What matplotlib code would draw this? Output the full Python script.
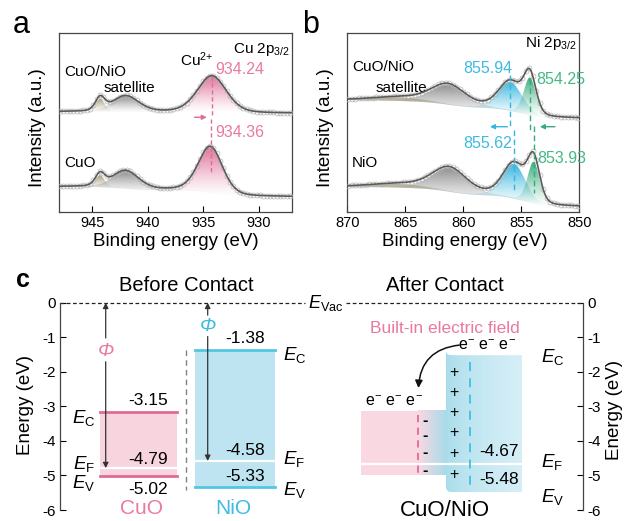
import numpy as np
import matplotlib
matplotlib.use('Agg')
import matplotlib.pyplot as plt
from matplotlib.colors import to_rgb
from matplotlib.path import Path
from matplotlib.patches import FancyArrowPatch

plt.rcParams['font.family'] = ['Liberation Sans', 'DejaVu Sans']
plt.rcParams['mathtext.fontset'] = 'custom'
plt.rcParams['mathtext.rm'] = 'Liberation Sans'
plt.rcParams['mathtext.it'] = 'Liberation Sans:italic'
plt.rcParams['mathtext.bf'] = 'Liberation Sans:bold'
plt.rcParams['axes.unicode_minus'] = False

W, H = 627, 521

# ---------------- data: XPS fitted components (center, height, FWHM) ----------------
# Cu 2p3/2 : [Cu2+, satellite, satellite (small)]
cu_xlim = (948, 927)
cu_ticks = [945, 940, 935, 930]
cuo_nio_cu_center = [934.24, 942.0, 944.3]
cuo_nio_cu_height = [37, 16, 13]
cuo_nio_cu_fwhm = [3.1, 2.8, 1.0]
cuo_nio_cu_bg = [100, 98.4]          # high-BE side, low-BE side
cuo_cu_center = [934.36, 942.0, 944.3]
cuo_cu_height = [47, 18, 12]
cuo_cu_fwhm = [2.6, 2.8, 1.0]
cuo_cu_bg = [25, 15]

# Ni 2p3/2 : [Ni (855.x), Ni (853.x/854.x), satellite, satellite (broad)]
ni_xlim = (870, 850)
ni_ticks = [870, 865, 860, 855, 850]
cuo_nio_ni_center = [855.94, 854.25, 861.3, 865.5]
cuo_nio_ni_height = [29, 38, 20, 3.5]
cuo_nio_ni_fwhm = [2.4, 1.25, 3.5, 5.5]
cuo_nio_ni_bg = [111.7, 93.4]
nio_ni_center = [855.62, 853.93, 861.2, 865.5]
nio_ni_height = [35, 42, 24, 3.5]
nio_ni_fwhm = [2.3, 1.25, 3.5, 5.5]
nio_ni_bg = [25, 5]

# ---------------- data: band alignment (eV) ----------------
energy_ticks = [0, -1, -2, -3, -4, -5, -6]
cuo_levels = [-3.15, -4.79, -5.02]     # Ec, EF, Ev
nio_levels = [-1.38, -4.58, -5.33]
after_cuo_levels = [-3.13, -4.67, -5.00]
after_nio_levels = [-1.52, -4.67, -5.48]

PINK = '#e06b96'
PINK_TXT = '#ea79a1'
BLUE = '#35b6e0'
BLUE_TXT = '#3dbbe0'
GREEN = '#37ab7c'
GREEN_TXT = '#45b985'
GRAY = '#8e8e8e'
KHAKI = '#a39d78'


def pv(x, c, h, f, eta=0.3):
    g = np.exp(-4 * np.log(2) * (x - c) ** 2 / f ** 2)
    lo = 1 / (1 + 4 * (x - c) ** 2 / f ** 2)
    return h * ((1 - eta) * g + eta * lo)


def spectrum(x, centers, heights, fwhms, bg):
    comps = [pv(x, c, h, f) for c, h, f in zip(centers, heights, fwhms)]
    total = np.sum(comps, axis=0)
    # Shirley-like step: x runs from high BE to low BE
    cum = np.cumsum(total[::-1])[::-1]
    back = bg[1] + (bg[0] - bg[1]) * cum / cum[0]
    return comps, back, back + total


def gradient_fill(ax, x, base, top, color, amax=1.0, z=1):
    m = (top - base) > 0.15
    xs, b, t = x[m], base[m], top[m]
    poly = ax.fill_between(xs, b, t, facecolor='none', edgecolor='none')
    path = poly.get_paths()[0]
    rgba = np.zeros((256, 1, 4))
    rgba[:, 0, :3] = to_rgb(color)
    rgba[:, 0, 3] = amax * np.linspace(0, 1, 256) ** 1.3
    im = ax.imshow(rgba, extent=(xs.min(), xs.max(), b.min(), t.max()),
                   origin='lower', aspect='auto', zorder=z, interpolation='bilinear')
    im.set_clip_path(path, transform=ax.transData)


def xps_panel(ax, xlim, ticks, spectra, colors):
    x = np.linspace(xlim[0], xlim[1], 900)
    xd = np.arange(xlim[0] - 0.1, xlim[1], -0.3)
    for centers, heights, fwhms, bg in spectra:
        comps, back, env = spectrum(x, centers, heights, fwhms, bg)
        for comp, col in zip(comps, colors):
            gradient_fill(ax, x, back, back + comp, col)
        _, _, envd = spectrum(xd, centers, heights, fwhms, bg)
        ax.plot(xd, envd, 'o', ms=3.6, mfc='none', mec='#b4b4b4', mew=0.5, zorder=3)
        ax.plot(x, env, color='#5a5a5a', lw=1.2, zorder=4)
    ax.set_xlim(*xlim)
    ax.set_ylim(0, 178.4)
    ax.set_xticks(ticks)
    ax.set_yticks([])
    ax.tick_params(axis='x', direction='in', length=4, width=0.8, labelsize=10.5, pad=3)
    for s in ax.spines.values():
        s.set_color('#444444')
        s.set_linewidth(0.9)


fig = plt.figure(figsize=(W / 100, H / 100), dpi=100)


def fpos(x, y):
    return x / W, 1 - y / H


# ---------------- panel a ----------------
axa = fig.add_axes([59 / W, 1 - 211.7 / H, 233.3 / W, 178.4 / H])
xps_panel(axa, cu_xlim, cu_ticks,
          [(cuo_nio_cu_center, cuo_nio_cu_height, cuo_nio_cu_fwhm, cuo_nio_cu_bg),
           (cuo_cu_center, cuo_cu_height, cuo_cu_fwhm, cuo_cu_bg)],
          [PINK, GRAY, KHAKI])
axa.plot([cuo_nio_cu_center[0]] * 2, [136, 95], ls=(0, (3, 2)), color=PINK, lw=1, zorder=5)
axa.plot([cuo_cu_center[0]] * 2, [93, 40], ls=(0, (3, 2)), color=PINK, lw=1, zorder=5)
axa.annotate('', xy=(934.7, 94.4), xytext=(935.8, 94.4),
             arrowprops=dict(arrowstyle='-|>', color=PINK, lw=1, mutation_scale=7,
                             shrinkA=0, shrinkB=0))
axa.text(927.2, 161.7, r'Cu 2p$_{3/2}$', ha='right', va='center', fontsize=11)
axa.text(935.6, 151.7, r'Cu$^{2\!+}$', ha='center', va='center', fontsize=11)
axa.text(933.95, 141.7, f'{cuo_nio_cu_center[0]:.2f}', ha='left', va='center', fontsize=11.5, color=PINK_TXT)
axa.text(933.95, 79, f'{cuo_cu_center[0]:.2f}', ha='left', va='center', fontsize=11.5, color=PINK_TXT)
axa.text(947.55, 140, 'CuO/NiO', ha='left', va='center', fontsize=11)
axa.text(944.0, 123.7, 'satellite', ha='left', va='center', fontsize=11)
axa.text(947.55, 48.7, 'CuO', ha='left', va='center', fontsize=11)

# ---------------- panel b ----------------
axb = fig.add_axes([347.3 / W, 1 - 211.7 / H, 232 / W, 178.4 / H])
xps_panel(axb, ni_xlim, ni_ticks,
          [(cuo_nio_ni_center, cuo_nio_ni_height, cuo_nio_ni_fwhm, cuo_nio_ni_bg),
           (nio_ni_center, nio_ni_height, nio_ni_fwhm, nio_ni_bg)],
          [BLUE, GREEN, GRAY, KHAKI])
dash = (0, (4, 2.5))
axb.plot([cuo_nio_ni_center[0]] * 2, [137, 84], ls=dash, color=BLUE, lw=1, zorder=5)
axb.plot([nio_ni_center[0]] * 2, [82, 19], ls=dash, color=BLUE, lw=1, zorder=5)
axb.plot([cuo_nio_ni_center[1]] * 2, [133, 82], ls=dash, color=GREEN, lw=1, zorder=5)
axb.plot([nio_ni_center[1]] * 2, [86, 19], ls=dash, color=GREEN, lw=1, zorder=5)
for x0, x1, col in [(856.2, 857.7, BLUE), (852.1, 853.4, GREEN)]:
    axb.annotate('', xy=(x1, 85), xytext=(x0, 85),
                 arrowprops=dict(arrowstyle='-|>', color=col, lw=1, mutation_scale=7,
                                 shrinkA=0, shrinkB=0))
axb.text(850.2, 168.4, r'Ni 2p$_{3/2}$', ha='right', va='center', fontsize=11)
axb.text(855.8, 143, f'{cuo_nio_ni_center[0]:.2f}', ha='right', va='center', fontsize=11.5, color=BLUE_TXT)
axb.text(853.75, 131.7, f'{cuo_nio_ni_center[1]:.2f}', ha='left', va='center', fontsize=11.5, color=GREEN_TXT)
axb.text(855.8, 68.4, f'{nio_ni_center[0]:.2f}', ha='right', va='center', fontsize=11.5, color=BLUE_TXT)
axb.text(853.65, 53.4, f'{nio_ni_center[1]:.2f}', ha='left', va='center', fontsize=11.5, color=GREEN_TXT)
axb.text(869.6, 145, 'CuO/NiO', ha='left', va='center', fontsize=11)
axb.text(867.6, 123.4, 'satellite', ha='left', va='center', fontsize=11)
axb.text(869.6, 48.6, 'NiO', ha='left', va='center', fontsize=11)

# axis labels / panel letters for a, b
for xc, yc, s in [(176, 241, 'Binding energy (eV)'), (465, 241, 'Binding energy (eV)')]:
    fig.text(*fpos(xc, yc), s, ha='center', va='center', fontsize=13.5)
for xc, yc in [(37, 128), (325.5, 128)]:
    fig.text(*fpos(xc, yc), 'Intensity (a.u.)', ha='center', va='center', fontsize=13.5, rotation=90)
fig.text(*fpos(13, 33), 'a', ha='left', va='baseline', fontsize=22)
fig.text(*fpos(302, 33), 'b', ha='left', va='baseline', fontsize=22)
fig.text(*fpos(16, 287), 'c', ha='left', va='baseline', fontsize=18, fontweight='bold')

# ---------------- panel c ----------------
axc = fig.add_axes([60 / W, 1 - 510 / H, 523 / W, 207.3 / H])
axc.set_xlim(60, 583)
axc.set_ylim(-6, 0)
axc.spines['top'].set_visible(False)
axc.spines['bottom'].set_visible(False)
for s in ['left', 'right']:
    axc.spines[s].set_color('#444444')
    axc.spines[s].set_linewidth(0.9)
axc.set_xticks([])
axc.set_yticks(energy_ticks)
axc.tick_params(axis='y', direction='in', length=4, width=0.8, labelsize=11,
                left=True, right=True, labelleft=True, labelright=True, pad=3)

PINK_BAND = '#f8d4de'
BLUE_BAND = '#bde4f0'
ec_lbl = r'$E_{\mathrm{C}}$'
ef_lbl = r'$E_{\mathrm{F}}$'
ev_lbl = r'$E_{\mathrm{V}}$'

# vacuum level
axc.plot([60, 305], [0, 0], color='#222222', lw=0.9, ls=(0, (3, 2)), clip_on=False)
axc.plot([346, 583], [0, 0], color='#222222', lw=0.9, ls=(0, (3, 2)), clip_on=False)
axc.text(308, 0, r'$E_{\mathrm{Vac}}$', ha='left', va='center', fontsize=13)

# before contact: CuO
ec, ef, ev = cuo_levels
axc.fill_between([100, 177.3], ev, ec, color=PINK_BAND, lw=0)
axc.plot([100, 177.3], [ec, ec], color=PINK, lw=2)
axc.plot([100, 177.3], [ev, ev], color=PINK, lw=2)
axc.plot([100, 177.3], [ef, ef], color='white', lw=1.6)
axc.text(148.3, ec + 0.33, f'{ec:.2f}', ha='center', va='center', fontsize=12.5)
axc.text(148.3, ef + 0.26, f'{ef:.2f}', ha='center', va='center', fontsize=12.5)
axc.text(148.3, ev - 0.40, f'{ev:.2f}', ha='center', va='center', fontsize=12.5)
axc.text(95, ec - 0.19, ec_lbl, ha='right', va='center', fontsize=13.5)
axc.text(95, ef + 0.12, ef_lbl, ha='right', va='center', fontsize=13.5)
axc.text(95, ev - 0.19, ev_lbl, ha='right', va='center', fontsize=13.5)
axc.text(141.7, -5.95, 'CuO', ha='center', va='center', fontsize=15, color=PINK_TXT, clip_on=False)

# work-function arrows
arr = dict(arrowstyle='-|>', color='#333333', lw=0.9, mutation_scale=8, shrinkA=0, shrinkB=0)
axc.annotate('', xy=(105.7, 0), xytext=(105.7, -1.02), arrowprops=arr)
axc.annotate('', xy=(105.7, ef), xytext=(105.7, -1.71), arrowprops=arr)
axc.text(105.7, -1.40, 'Φ', style='italic', ha='center', va='center', fontsize=14, color=PINK_TXT)

axc.plot([185.7, 185.7], [-1.37, -5.42], color='#808080', lw=1, ls=(0, (4, 3)))

# before contact: NiO
ec, ef, ev = nio_levels
axc.fill_between([195, 275], ev, ec, color=BLUE_BAND, lw=0)
axc.plot([195, 275], [ec, ec], color='#52c6e3', lw=2)
axc.plot([195, 275], [ev, ev], color='#52c6e3', lw=2)
axc.plot([195, 275], [ef, ef], color='white', lw=1.6)
axc.annotate('', xy=(207.7, 0), xytext=(207.7, -0.36), arrowprops=arr)
axc.annotate('', xy=(207.7, ef), xytext=(207.7, -0.98), arrowprops=arr)
axc.text(207.7, -0.69, 'Φ', style='italic', ha='center', va='center', fontsize=14, color=BLUE_TXT)
axc.text(245, ec + 0.35, f'{ec:.2f}', ha='center', va='center', fontsize=12.5)
axc.text(245, ef + 0.30, f'{ef:.2f}', ha='center', va='center', fontsize=12.5)
axc.text(245, ev + 0.29, f'{ev:.2f}', ha='center', va='center', fontsize=12.5)
axc.text(283, ec - 0.13, ec_lbl, ha='left', va='center', fontsize=13.5)
axc.text(283, ef + 0.05, ef_lbl, ha='left', va='center', fontsize=13.5)
axc.text(283, ev - 0.09, ev_lbl, ha='left', va='center', fontsize=13.5)
axc.text(233.3, -5.95, 'NiO', ha='center', va='center', fontsize=15, color=BLUE_TXT, clip_on=False)
axc.text(186.7, 0.51, 'Before Contact', ha='center', va='center', fontsize=14.5)

# after contact
c_ec, c_ef, c_ev = after_cuo_levels
n_ec, n_ef, n_ev = after_nio_levels
pink_rgb = np.array(to_rgb('#fad8e1'))
blue_dark = np.array(to_rgb('#a6dbea'))
blue_light = np.array(to_rgb('#d6eff7'))
axc.fill_between([361, 418], c_ev, c_ec, color='#fad8e1', lw=0)
t = np.linspace(0, 1, 256)[None, :, None]
junc = (1 - t) * pink_rgb + t * blue_dark
axc.imshow(junc, extent=(418, 446.5, c_ev, c_ec), origin='lower', aspect='auto',
           interpolation='bilinear', zorder=1)
verts = [(446, n_ec + 0.12), (446, n_ec), (452, n_ec), (522, n_ec), (522, n_ev),
         (452, n_ev), (446, n_ev), (446, n_ev + 0.14), (446, n_ec + 0.12)]
codes = [Path.MOVETO, Path.CURVE3, Path.CURVE3, Path.LINETO, Path.LINETO,
         Path.LINETO, Path.CURVE3, Path.CURVE3, Path.CLOSEPOLY]
blue_path = Path(verts, codes)
tb = (np.linspace(0, 1, 256) ** 0.6)[None, :, None]
grad_b = (1 - tb) * blue_dark + tb * blue_light
imb = axc.imshow(grad_b, extent=(446, 522, n_ev, n_ec + 0.12), origin='lower', aspect='auto',
                 interpolation='bilinear', zorder=1)
imb.set_clip_path(blue_path, transform=axc.transData)
axc.plot([361, 522], [c_ef, c_ef], color='white', lw=1.6, zorder=2)

axc.plot([418, 418], [-3.25, c_ev], color=PINK, lw=1.3, ls=(0, (4, 3)), zorder=3)
axc.plot([470, 470], [-1.71, -5.33], color='#3fc0e0', lw=1.3, ls=(0, (5, 4)), zorder=3)
for e in [-3.4, -3.84, -4.34, -4.86]:
    axc.text(425, e, '-', ha='center', va='center', fontsize=11.5, fontweight='bold', zorder=4)
for e in [-2.03, -2.6, -3.18, -3.76, -4.36, -4.97]:
    axc.text(454.3, e, '+', ha='center', va='center', fontsize=11.5, zorder=4)
el = r'e$^{-}$ e$^{-}$ e$^{-}$'
axc.text(486.7, -1.25, el, ha='center', va='center', fontsize=11.5)
axc.text(394.5, -2.87, el, ha='center', va='center', fontsize=11.5)
axc.add_patch(FancyArrowPatch((462, -1.22), (418.3, -2.55), connectionstyle='arc3,rad=0.45',
                              arrowstyle='-|>', mutation_scale=11, color='#111111', lw=1.1))
axc.text(499, n_ef + 0.36, f'{n_ef:.2f}', ha='center', va='center', fontsize=12.5)
axc.text(499, n_ev + 0.35, f'{n_ev:.2f}', ha='center', va='center', fontsize=12.5)
axc.text(541, -1.56, ec_lbl, ha='left', va='center', fontsize=13.5)
axc.text(541, -4.6, ef_lbl, ha='left', va='center', fontsize=13.5)
axc.text(541, -5.63, ev_lbl, ha='left', va='center', fontsize=13.5)
axc.text(445, -0.74, 'Built-in electric field', ha='center', va='center', fontsize=12.5, color=PINK_TXT)
axc.text(445, 0.51, 'After Contact', ha='center', va='center', fontsize=14.5)
axc.text(445, -6.0, 'CuO/NiO', ha='center', va='center', fontsize=16, clip_on=False)
axc.set_xlim(60, 583)
axc.set_ylim(-6, 0)

fig.text(*fpos(25.5, 405), 'Energy (eV)', ha='center', va='center', fontsize=13.5, rotation=90)
fig.text(*fpos(614.5, 410), 'Energy (eV)', ha='center', va='center', fontsize=13.5, rotation=90)

fig.savefig('out.png', dpi=100)
